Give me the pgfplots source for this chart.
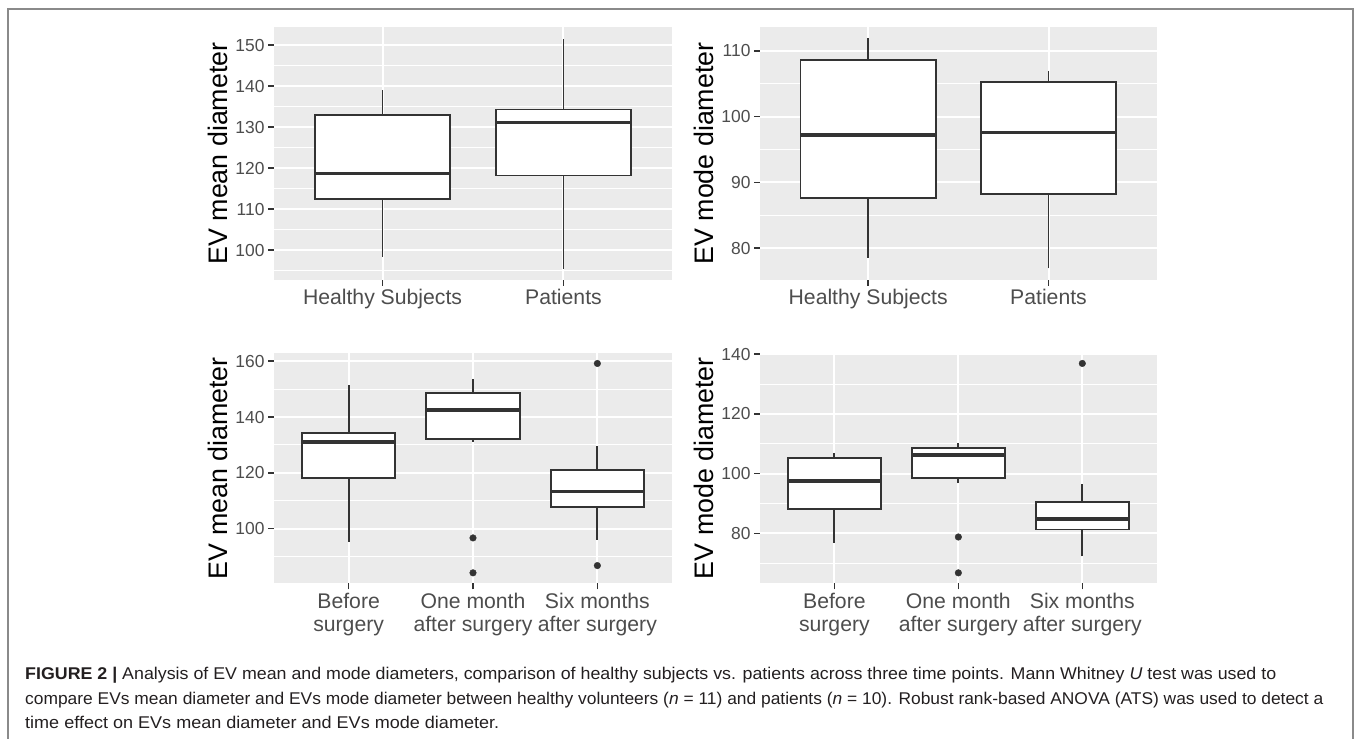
\documentclass[border=0pt]{standalone}
\usepackage{fontspec}
\setmainfont{Liberation Sans}
\usepackage{pgfplots}
\pgfplotsset{compat=1.18}
\usepackage{graphicx}
\definecolor{bgg}{HTML}{EBEBEB}
\definecolor{g20}{HTML}{333333}
\definecolor{g30}{HTML}{4D4D4D}
\definecolor{framec}{HTML}{8A8A8A}
\definecolor{captxt}{HTML}{231F20}

\pgfplotsset{
 gg/.style={
  scale only axis,
  axis background/.style={fill=bgg},
  axis line style={draw=none},
  xmajorgrids, ymajorgrids, yminorgrids,
  major grid style={white, line width=2bp},
  minor grid style={white, line width=1bp},
  tick align=outside, tick pos=left,
  major tick length=6bp,
  tick style={g20, line width=1.5bp},
  minor tick style={draw=none},
  /pgf/number format/assume math mode=true,
  yticklabel style={font=\fontsize{17.4bp}{20bp}\selectfont, text=g30},
  xticklabel style={font=\fontsize{21.2bp}{23.4bp}\selectfont, text=g30, align=center},
  every axis y label/.style={at={(axis description cs:-0.118,0.5)}, rotate=90, anchor=base,
     font=\fontsize{26.8bp}{30bp}\selectfont, text=black},
 },
}
% #1 left, #2 centre, #3 right, #4 lower whisker, #5 lower quartile, #6 median, #7 upper quartile, #8 upper whisker
\newcommand\gbox[8]{%
  \addplot[draw=g20, line width=1.8bp, forget plot] coordinates {(#2,#4) (#2,#5)};
  \addplot[draw=g20, line width=1.8bp, forget plot] coordinates {(#2,#7) (#2,#8)};
  \addplot[draw=g20, fill=white, line width=1.8bp, forget plot] coordinates {(#1,#5) (#3,#5) (#3,#7) (#1,#7)} --cycle;
  \addplot[draw=g20, line width=3.6bp, forget plot] coordinates {(#1,#6) (#3,#6)};
}
\pgfplotsset{outl/.style={only marks, mark=*, mark size=3.3bp, draw=g20, fill=g20, forget plot}}

\newcommand\capsize{\fontsize{17bp}{20bp}\selectfont\color{captxt}}

\begin{document}
\begin{tikzpicture}
\useasboundingbox (0bp,0bp) rectangle (1356bp,739bp);
% frame
\draw[framec, line width=2bp] (8.3bp,-5bp) -- (8.3bp,730bp) -- (1352.7bp,730bp) -- (1352.7bp,-5bp);

% Panel 1
\begin{axis}[gg, at={(274bp,459bp)}, anchor=south west, width=398bp, height=253bp,
  xmin=0.4, xmax=2.6, ymin=92.7, ymax=154.4,
  xtick={1,2}, xticklabels={Healthy Subjects, Patients},
  ytick={100,110,120,130,140,150}, minor ytick={95,105,115,125,135,145},
  ylabel={EV mean diameter}]
\gbox{0.625}{1}{1.375}{98.4}{112.4}{118.7}{133.0}{139.0}
\gbox{1.625}{2}{2.375}{95.4}{118.2}{131.1}{134.3}{151.5}
\end{axis}

% Panel 2
\begin{axis}[gg, at={(760bp,459bp)}, anchor=south west, width=396.7bp, height=253bp,
  xmin=0.4, xmax=2.6, ymin=75.15, ymax=113.65,
  xtick={1,2}, xticklabels={Healthy Subjects, Patients},
  ytick={80,90,100,110}, minor ytick={85,95,105},
  ylabel={EV mode diameter}]
\gbox{0.625}{1}{1.375}{78.5}{87.6}{97.2}{108.6}{111.9}
\gbox{1.625}{2}{2.375}{76.9}{88.2}{97.6}{105.3}{107.0}
\end{axis}

% Panel 3
\begin{axis}[gg, at={(274bp,155.7bp)}, anchor=south west, width=398bp, height=230.3bp,
  xmin=0.4, xmax=3.6, ymin=80.45, ymax=162.95,
  xtick={1,2,3}, xticklabels={{Before\\surgery}, {One month\\after surgery}, {Six months\\after surgery}},
  ytick={100,120,140,160}, minor ytick={90,110,130,150},
  ylabel={EV mean diameter}]
\gbox{0.625}{1}{1.375}{95.4}{118.2}{131.1}{134.3}{151.5}
\gbox{1.625}{2}{2.375}{131.2}{132.1}{142.5}{148.5}{153.8}
\gbox{2.625}{3}{3.375}{96.1}{107.9}{113.3}{120.9}{129.6}
\addplot[outl] coordinates {(2,96.7) (2,84.2) (3,159.2) (3,86.8)};
\end{axis}

% Panel 4
\begin{axis}[gg, at={(760bp,155.7bp)}, anchor=south west, width=396.7bp, height=230.3bp,
  xmin=0.4, xmax=3.6, ymin=63.3, ymax=140.4,
  xtick={1,2,3}, xticklabels={{Before\\surgery}, {One month\\after surgery}, {Six months\\after surgery}},
  ytick={80,100,120,140}, minor ytick={70,90,110,130},
  ylabel={EV mode diameter}]
\gbox{0.625}{1}{1.375}{76.9}{88.2}{97.6}{105.3}{107.0}
\gbox{1.625}{2}{2.375}{96.8}{98.6}{106.2}{108.7}{110.4}
\gbox{2.625}{3}{3.375}{72.3}{81.3}{84.8}{90.4}{96.6}
\addplot[outl] coordinates {(2,78.8) (2,66.8) (3,136.9)};
\end{axis}

% caption
\node[anchor=base west, inner sep=0pt] at (25bp,59bp) {\resizebox{1251bp}{\height}{\capsize{\bfseries FIGURE 2 |} Analysis of EV mean and mode diameters, comparison of healthy subjects vs. patients across three time points. Mann Whitney \textit{U} test was used to}};
\node[anchor=base west, inner sep=0pt] at (25bp,35bp) {\resizebox{1298bp}{\height}{\capsize compare EVs mean diameter and EVs mode diameter between healthy volunteers (\textit{n} = 11) and patients (\textit{n} = 10). Robust rank-based ANOVA (ATS) was used to detect a}};
\node[anchor=base west, inner sep=0pt] at (25bp,11bp) {\resizebox{474bp}{\height}{\capsize time effect on EVs mean diameter and EVs mode diameter.}};
\end{tikzpicture}
\end{document}
